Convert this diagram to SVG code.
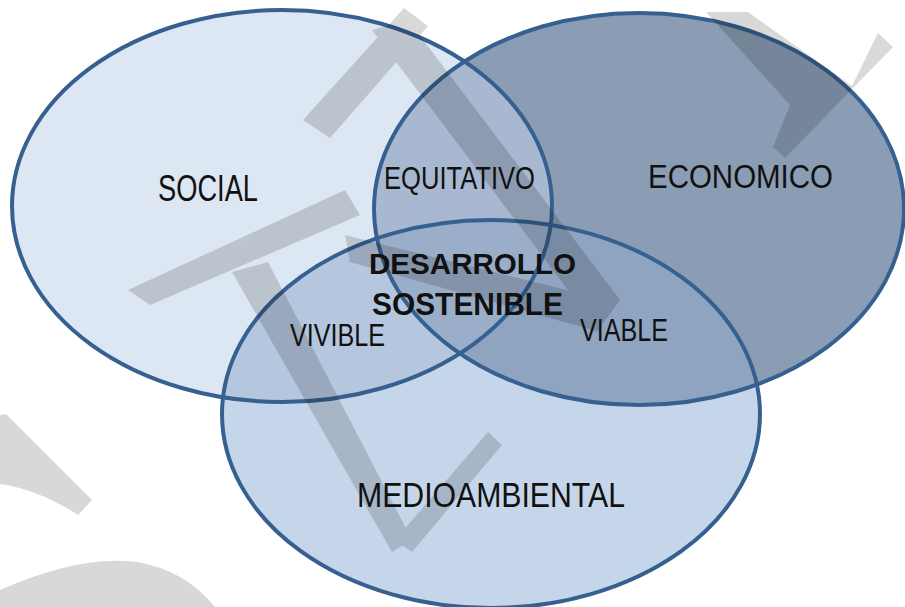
<svg xmlns="http://www.w3.org/2000/svg" width="905" height="607" viewBox="0 0 905 607">
  <style>
    .lbl { font-family: "Liberation Sans", Arial, sans-serif; fill: #111; }
    .bold { font-weight: bold; }
    .edge { fill: none; stroke: #36608f; stroke-width: 4; }
    .wm { fill: #000; }
  </style>
  <defs>
    <clipPath id="cS"><ellipse cx="282" cy="206" rx="270" ry="196"/></clipPath>
    <clipPath id="cE"><ellipse cx="639" cy="209" rx="265" ry="196"/></clipPath>
  </defs>
  <rect width="905" height="607" fill="#ffffff"/>

  <g id="social">
    <ellipse cx="282" cy="206" rx="270" ry="196" fill="#dde7f3"/>
  </g>
  <g id="economico">
    <ellipse cx="639" cy="209" rx="265" ry="196" fill="#8b9db4"/>
  </g>
  <g id="medioambiental">
    <ellipse cx="491" cy="414" rx="269" ry="194" fill="#c6d6ea"/>
  </g>
  <g id="overlaps">
    <ellipse cx="639" cy="209" rx="265" ry="196" fill="#a7b8d0" clip-path="url(#cS)"/>
    <ellipse cx="491" cy="414" rx="269" ry="194" fill="#b5c7de" clip-path="url(#cS)"/>
    <ellipse cx="491" cy="414" rx="269" ry="194" fill="#8ea4c0" clip-path="url(#cE)"/>
    <g clip-path="url(#cE)">
      <ellipse cx="491" cy="414" rx="269" ry="194" fill="#9aaec9" clip-path="url(#cS)"/>
    </g>
  </g>
  <g id="outlines">
    <ellipse class="edge" cx="282" cy="206" rx="270" ry="196"/>
    <ellipse class="edge" cx="639" cy="209" rx="265" ry="196"/>
    <ellipse class="edge" cx="491" cy="414" rx="269" ry="194"/>
  </g>

  <g id="watermark" opacity="0.15">
    <polygon class="wm" points="303,120 330,138 428,26 404,8"/>
    <polygon class="wm" points="372,30 408,20 620,300 598,330"/>
    <polygon class="wm" points="128,290 150,305 360,215 345,190"/>
    <polygon class="wm" points="232,272 268,262 412,540 392,552"/>
    <polygon class="wm" points="395,540 412,552 502,445 488,432"/>
    <polygon class="wm" points="345,235 350,262 600,332 606,300"/>
    <polygon class="wm" points="706,12 748,12 852,86 878,33 893,47 785,158 773,147 790,105"/>
    <path class="wm" d="M0,415 L6,414 L92,500 L78,515 Q40,490 0,484 Z"/>
    <path class="wm" d="M0,607 L0,590 Q80,555 137,562 Q185,570 215,607 Z"/>
  </g>

  <g id="label-social"><text class="lbl" x="158" y="201" font-size="36" textLength="100" lengthAdjust="spacingAndGlyphs">SOCIAL</text></g>
  <g id="label-economico"><text class="lbl" x="648" y="188" font-size="34" textLength="185" lengthAdjust="spacingAndGlyphs">ECONOMICO</text></g>
  <g id="label-medioambiental"><text class="lbl" x="357" y="507" font-size="35" textLength="268" lengthAdjust="spacingAndGlyphs">MEDIOAMBIENTAL</text></g>
  <g id="equitativo"><text class="lbl" x="384" y="189" font-size="31" textLength="151" lengthAdjust="spacingAndGlyphs">EQUITATIVO</text></g>
  <g id="vivible"><text class="lbl" x="290" y="346" font-size="32" textLength="95" lengthAdjust="spacingAndGlyphs">VIVIBLE</text></g>
  <g id="viable"><text class="lbl" x="580" y="341" font-size="31" textLength="88" lengthAdjust="spacingAndGlyphs">VIABLE</text></g>
  <g id="desarrollo-sostenible">
    <text class="lbl bold" x="369" y="274" font-size="30" textLength="207" lengthAdjust="spacingAndGlyphs">DESARROLLO</text>
    <text class="lbl bold" x="372" y="315" font-size="31" textLength="191" lengthAdjust="spacingAndGlyphs">SOSTENIBLE</text>
  </g>
  <g id="connectors"/>
</svg>
